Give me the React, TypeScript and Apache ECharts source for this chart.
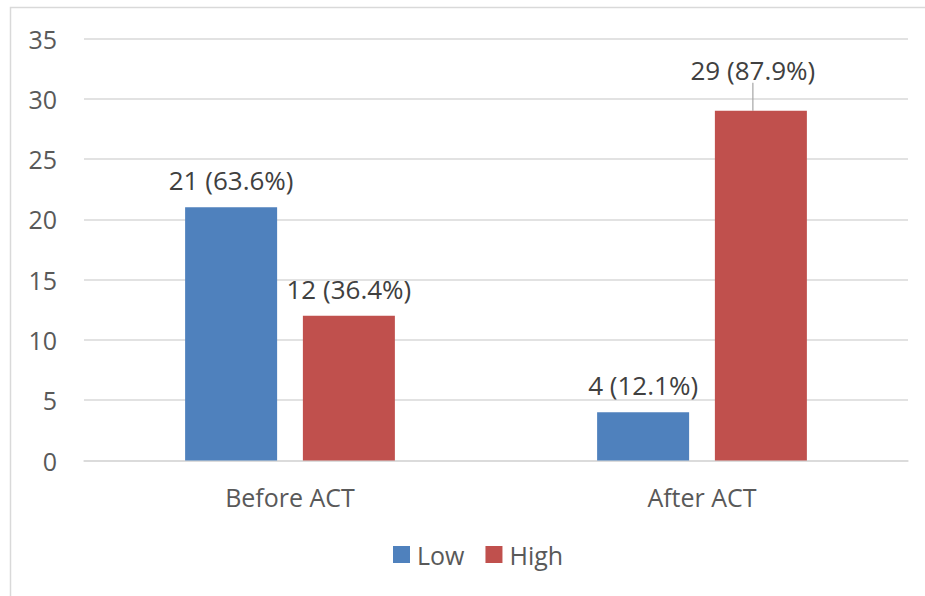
import React, { useEffect, useRef } from "react";
import * as echarts from "echarts";

const categories = ["Before ACT", "After ACT"];
const lowValues = [21, 4];
const highValues = [12, 29];
const lowLabels = ["21 (63.6%)", "4 (12.1%)"];
const highLabels = ["12 (36.4%)", "29 (87.9%)"];
const seriesNames = ["Low", "High"];

const FONT = "'Open Sans', 'Noto Sans', sans-serif";
const FS = 25;

export default function App() {
  const ref = useRef<HTMLDivElement>(null);
  useEffect(() => {
    document.body.style.margin = "0";
    const chart = echarts.init(ref.current!, null, { renderer: "svg" });
    const labelBase = {
      show: true,
      position: "top" as const,
      distance: 14,
      fontSize: 26,
      color: "#404040",
      fontFamily: FONT,
    };
    chart.setOption({
      animation: false,
      backgroundColor: "#ffffff",
      textStyle: { fontFamily: FONT },
      graphic: [
        {
          type: "polyline",
          shape: { points: [[10.5, 600], [10.5, 7.5], [930, 7.5]] },
          style: { stroke: "#d9d9d9", lineWidth: 1.5, fill: null },
          silent: true,
        },
      ],
      grid: { left: 84, right: 17, top: 38.5, bottom: 135.5 },
      legend: {
        data: seriesNames,
        bottom: 24,
        left: 388,
        itemWidth: 17,
        itemHeight: 17,
        itemGap: 21,
        icon: "rect",
        textStyle: { fontSize: FS, color: "#595959", fontFamily: FONT, padding: [0, 0, 0, 2] },
      },
      xAxis: {
        type: "category",
        data: categories,
        axisLine: { show: true, lineStyle: { color: "#d9d9d9", width: 1.5 } },
        axisTick: { show: false },
        axisLabel: { fontSize: FS, color: "#595959", margin: 24, fontFamily: FONT },
      },
      yAxis: {
        type: "value",
        min: 0,
        max: 35,
        interval: 5,
        axisLine: { show: false },
        axisTick: { show: false },
        splitLine: { lineStyle: { color: "#d9d9d9", width: 1.5 } },
        axisLabel: { fontSize: FS, color: "#595959", margin: 27, fontFamily: FONT },
      },
      series: [
        {
          name: seriesNames[0],
          type: "bar",
          data: lowValues,
          barWidth: 92,
          barGap: "28%",
          itemStyle: { color: "#4F81BD" },
          label: {
            ...labelBase,
            formatter: (p: any) => lowLabels[p.dataIndex],
          },
        },
        {
          name: seriesNames[1],
          type: "bar",
          data: highValues.map((v, i) =>
            i === 1
              ? { value: v, labelLine: { show: true, lineStyle: { color: "#a6a6a6", width: 1.2 } } }
              : { value: v, labelLine: { show: false } }
          ),
          barWidth: 92,
          barGap: "28%",
          itemStyle: { color: "#C0504D" },
          label: {
            ...labelBase,
            formatter: (p: any) => highLabels[p.dataIndex],
          },
          labelLayout: (p: any) =>
            p.dataIndex === 1 ? { dx: -8, dy: -14 } : {},
        },
      ],
    });
    return () => chart.dispose();
  }, []);
  return <div ref={ref} style={{ width: 925, height: 596 }} />;
}
